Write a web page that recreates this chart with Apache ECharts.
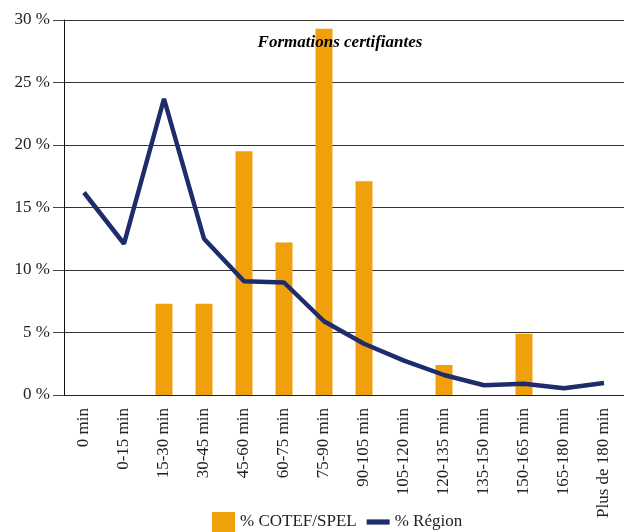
<!DOCTYPE html>
<html>
<head>
<meta charset="utf-8">
<script src="https://cdn.jsdelivr.net/npm/echarts@6/dist/echarts.min.js"></script>
<style>
  html, body { margin: 0; padding: 0; background: #fff; }
  #chart { width: 624px; height: 532px; }
</style>
</head>
<body>
<div id="chart"></div>
<script>
var categories = ['0 min', '0-15 min', '15-30 min', '30-45 min', '45-60 min', '60-75 min', '75-90 min',
  '90-105 min', '105-120 min', '120-135 min', '135-150 min', '150-165 min', '165-180 min', 'Plus de 180 min'];
var cotef = [0, 0, 7.3, 7.3, 19.5, 12.2, 29.3, 17.1, 0, 2.4, 0, 4.9, 0, 0];
var region = [16.2, 12.1, 23.7, 12.5, 9.1, 9.0, 5.9, 4.1, 2.75, 1.6, 0.78, 0.9, 0.54, 0.96];
var yTicks = [0, 30, 5];

var font = '"Liberation Serif", "DejaVu Serif", serif';
var myChart = echarts.init(document.getElementById('chart'));

var option = {
  animation: false,
  textStyle: { fontFamily: font },
  title: {
    text: 'Formations certifiantes',
    left: 340,
    top: 34,
    padding: 0,
    textAlign: 'center',
    textStyle: { fontFamily: font, fontSize: 17, fontWeight: 'bold', fontStyle: 'italic', color: '#000' }
  },
  legend: {
    left: 212,
    top: 512,
    padding: 0,
    itemWidth: 23,
    itemHeight: 20,
    itemGap: 10,
    textStyle: { fontFamily: font, fontSize: 17, color: '#222' },
    data: [
      { name: '% COTEF/SPEL', icon: 'rect' },
      { name: '% Région', icon: 'path://M0,0 H22 V5 H0 Z' }
    ]
  },
  grid: { left: 64, top: 20, right: -6, bottom: 137 },
  xAxis: {
    type: 'category',
    data: categories,
    axisLine: { lineStyle: { color: '#222', width: 1 } },
    axisTick: { length: 12, lineStyle: { color: '#333' } },
    axisLabel: { rotate: 90, margin: 13, fontSize: 17, color: '#222', fontFamily: font, interval: 0 }
  },
  yAxis: {
    type: 'value',
    min: yTicks[0],
    max: yTicks[1],
    interval: yTicks[2],
    axisLine: { show: true, lineStyle: { color: '#111', width: 1 } },
    axisTick: { show: true, length: 11, lineStyle: { color: '#444' } },
    axisLabel: { formatter: '{value} %', margin: 14, fontSize: 17, color: '#222', fontFamily: font },
    splitLine: { lineStyle: { color: '#333', width: 1 } }
  },
  series: [
    {
      name: '% COTEF/SPEL',
      type: 'bar',
      barWidth: 17,
      itemStyle: { color: '#f0a00a' },
      data: cotef
    },
    {
      name: '% Région',
      type: 'line',
      symbol: 'none',
      lineStyle: { color: '#1f2c6b', width: 4.5 },
      itemStyle: { color: '#1f2c6b' },
      z: 5,
      data: region
    }
  ]
};
myChart.setOption(option);
</script>
</body>
</html>
